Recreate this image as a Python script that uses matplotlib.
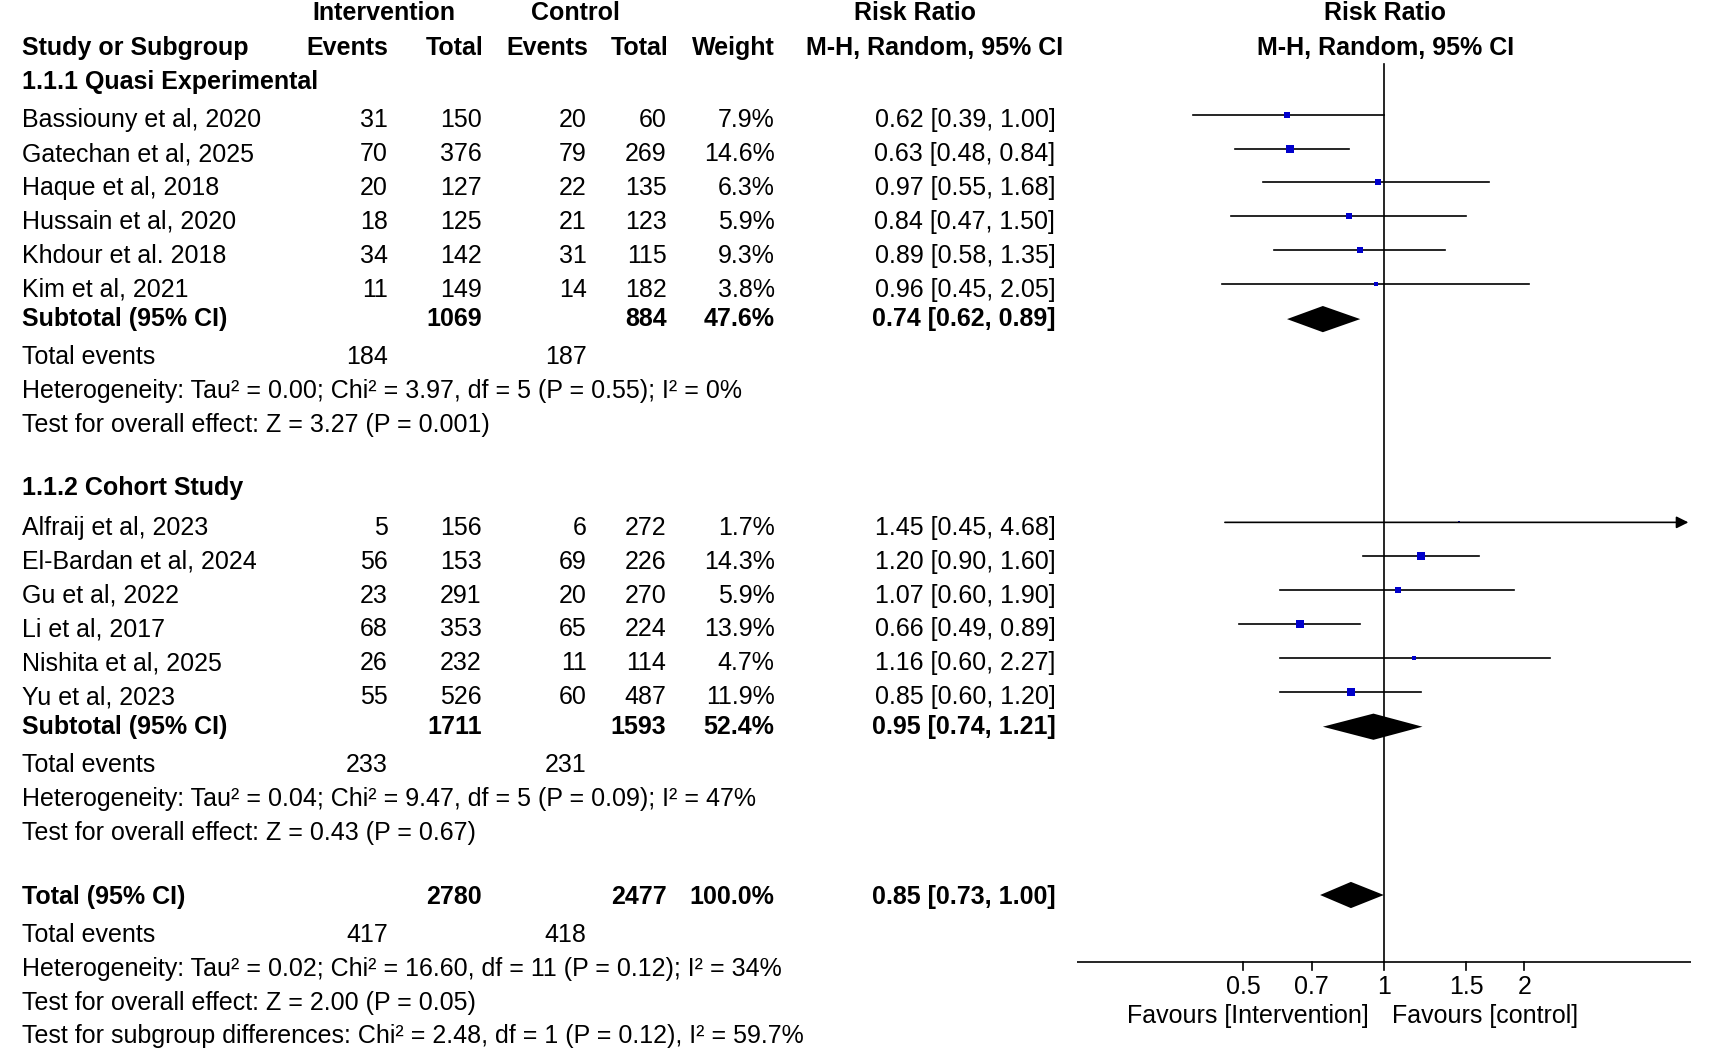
import matplotlib
matplotlib.use("Agg")
import matplotlib.pyplot as plt
import numpy as np

plt.rcParams["font.family"] = ["Liberation Sans", "DejaVu Sans"]

# ---- data ----
g1_names = ["Bassiouny et al, 2020", "Gatechan et al, 2025", "Haque et al, 2018",
            "Hussain et al, 2020", "Khdour et al. 2018", "Kim et al, 2021"]
g1_ev_i = [31, 70, 20, 18, 34, 11]
g1_tot_i = [150, 376, 127, 125, 142, 149]
g1_ev_c = [20, 79, 22, 21, 31, 14]
g1_tot_c = [60, 269, 135, 123, 115, 182]
g1_weight = [7.9, 14.6, 6.3, 5.9, 9.3, 3.8]
g1_rr = [0.62, 0.63, 0.97, 0.84, 0.89, 0.96]
g1_lo = [0.39, 0.48, 0.55, 0.47, 0.58, 0.45]
g1_hi = [1.00, 0.84, 1.68, 1.50, 1.35, 2.05]

g2_names = ["Alfraij et al, 2023", "El-Bardan et al, 2024", "Gu et al, 2022",
            "Li et al, 2017", "Nishita et al, 2025", "Yu et al, 2023"]
g2_ev_i = [5, 56, 23, 68, 26, 55]
g2_tot_i = [156, 153, 291, 353, 232, 526]
g2_ev_c = [6, 69, 20, 65, 11, 60]
g2_tot_c = [272, 226, 270, 224, 114, 487]
g2_weight = [1.7, 14.3, 5.9, 13.9, 4.7, 11.9]
g2_rr = [1.45, 1.20, 1.07, 0.66, 1.16, 0.85]
g2_lo = [0.45, 0.90, 0.60, 0.49, 0.60, 0.60]
g2_hi = [4.68, 1.60, 1.90, 0.89, 2.27, 1.20]

sub1 = (0.74, 0.62, 0.89)
sub2 = (0.95, 0.74, 1.21)
overall = (0.85, 0.73, 1.00)
sub_weights = [47.6, 52.4]

xticks = [0.5, 0.7, 1, 1.5, 2]
XMIN, XMAX = 0.22, 4.56

W, H = 1568, 959
fig = plt.figure(figsize=(17.13, 10.48), dpi=100)
ax = fig.add_axes([0, 0, 1, 1])
ax.set_xlim(0, W)
ax.set_ylim(H, 0)
ax.axis("off")

fx0, fx1 = 986, 1548
fax = fig.add_axes([fx0 / W, 0, (fx1 - fx0) / W, 1])
fax.set_xscale("log")
fax.set_xlim(XMIN, XMAX)
fax.set_ylim(H, 0)
fax.axis("off")

FS = 18
blue = "#0000CC"


def t(x, y, s, ha="left", bold=False):
    ax.text(x, y, s, ha=ha, va="center", fontsize=FS,
            fontweight="bold" if bold else "normal")


# headers
t(351, 12, "Intervention", "center", True)
t(527, 12, "Control", "center", True)
t(838, 12, "Risk Ratio", "center", True)
t(1268, 12, "Risk Ratio", "center", True)
t(20, 44, "Study or Subgroup", bold=True)
t(355, 44, "Events", "right", True)
t(443, 44, "Total", "right", True)
t(538, 44, "Events", "right", True)
t(612, 44, "Total", "right", True)
t(709, 44, "Weight", "right", True)
t(855, 44, "M-H, Random, 95% CI", "center", True)
t(1268, 44, "M-H, Random, 95% CI", "center", True)


def diamond(est, y):
    fax.fill([est[1], est[0], est[2], est[0]], [y, y - 12, y, y + 12],
             color="black", lw=0)


def group(title, y0, names, ei, ti, ec, tc, w, rr, lo, hi, sub, sw, ys):
    t(20, y0, title, bold=True)
    for k, y in enumerate(ys):
        t(20, y, names[k])
        t(355, y, str(ei[k]), "right")
        t(441, y, str(ti[k]), "right")
        t(537, y, str(ec[k]), "right")
        t(610, y, str(tc[k]), "right")
        t(709, y, f"{w[k]:.1f}%", "right")
        t(966, y, f"{rr[k]:.2f} [{lo[k]:.2f}, {hi[k]:.2f}]", "right")
        yy = y - 5
        h = hi[k]
        if h > XMAX:
            fax.annotate("", xy=(XMAX, yy), xytext=(lo[k], yy),
                         arrowprops=dict(arrowstyle="-|>", color="black", lw=1.2,
                                         mutation_scale=18))
        else:
            fax.plot([lo[k], h], [yy, yy], color="black", lw=1.2)
        side = 8 * np.sqrt(w[k] / 14.6)
        fax.plot(rr[k], yy, marker="s", color=blue, ms=side * 0.72 * 1.0925, mew=0)
    ys_sub = ys[-1] + 27
    t(20, ys_sub, "Subtotal (95% CI)", bold=True)
    t(441, ys_sub, str(sum(ti)), "right", True)
    t(610, ys_sub, str(sum(tc)), "right", True)
    t(709, ys_sub, f"{sw:.1f}%", "right", True)
    t(966, ys_sub, f"{sub[0]:.2f} [{sub[1]:.2f}, {sub[2]:.2f}]", "right", True)
    diamond(sub, ys_sub)
    t(20, ys_sub + 35, "Total events")
    t(355, ys_sub + 35, str(sum(ei)), "right")
    t(537, ys_sub + 35, str(sum(ec)), "right")


group("1.1.1 Quasi Experimental", 75, g1_names, g1_ev_i, g1_tot_i, g1_ev_c,
      g1_tot_c, g1_weight, g1_rr, g1_lo, g1_hi, sub1, sub_weights[0],
      [110, 141, 172, 203, 234, 265])
t(20, 358, "Heterogeneity: Tau² = 0.00; Chi² = 3.97, df = 5 (P = 0.55); I² = 0%")
t(20, 389, "Test for overall effect: Z = 3.27 (P = 0.001)")

group("1.1.2 Cohort Study", 447, g2_names, g2_ev_i, g2_tot_i, g2_ev_c,
      g2_tot_c, g2_weight, g2_rr, g2_lo, g2_hi, sub2, sub_weights[1],
      [483, 514, 545, 576, 607, 638])
t(20, 731, "Heterogeneity: Tau² = 0.04; Chi² = 9.47, df = 5 (P = 0.09); I² = 47%")
t(20, 762, "Test for overall effect: Z = 0.43 (P = 0.67)")

# overall
t(20, 821, "Total (95% CI)", bold=True)
t(441, 821, str(sum(g1_tot_i) + sum(g2_tot_i)), "right", True)
t(610, 821, str(sum(g1_tot_c) + sum(g2_tot_c)), "right", True)
t(709, 821, "100.0%", "right", True)
t(966, 821, f"{overall[0]:.2f} [{overall[1]:.2f}, {overall[2]:.2f}]", "right", True)
diamond(overall, 819)
t(20, 856, "Total events")
t(355, 856, str(sum(g1_ev_i) + sum(g2_ev_i)), "right")
t(537, 856, str(sum(g1_ev_c) + sum(g2_ev_c)), "right")
t(20, 887, "Heterogeneity: Tau² = 0.02; Chi² = 16.60, df = 11 (P = 0.12); I² = 34%")
t(20, 918, "Test for overall effect: Z = 2.00 (P = 0.05)")
t(20, 948, "Test for subgroup differences: Chi² = 2.48, df = 1 (P = 0.12), I² = 59.7%")

# forest axis
fax.plot([1, 1], [59, 880], color="black", lw=1.2)
fax.plot([XMIN, XMAX], [880, 880], color="black", lw=1.2)
for v in xticks:
    fax.plot([v, v], [880, 888], color="black", lw=1.2)
    fax.text(v, 903, f"{v:g}", ha="center", va="center", fontsize=FS)
fax.text(0.51, 930, "Favours [Intervention]", ha="center", va="center", fontsize=FS)
fax.text(1.65, 930, "Favours [control]", ha="center", va="center", fontsize=FS)

fig.savefig("out.png", dpi=100, facecolor="white")
